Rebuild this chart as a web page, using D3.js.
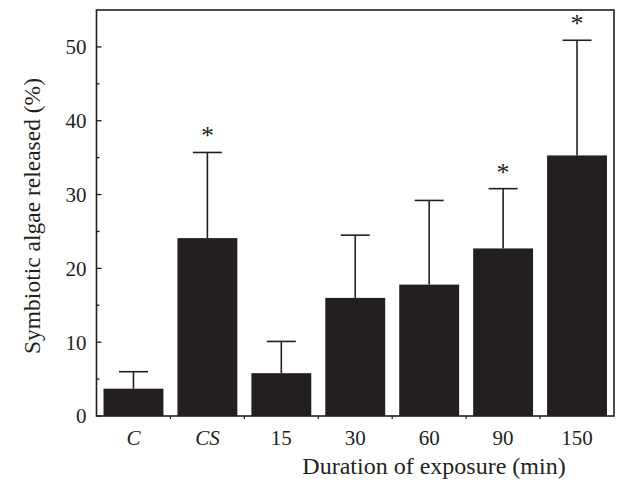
<!DOCTYPE html>
<html><head><meta charset="utf-8">
<script src="https://cdn.jsdelivr.net/npm/d3@7"></script>
<style>body{margin:0;background:#fff}svg{display:block}</style>
</head><body><svg id="c" width="617" height="490"></svg>
<script>
const categories = ["C","CS","15","30","60","90","150"];
const italicCats = ["C","CS"];
const means = [3.7, 24.1, 5.8, 16.0, 17.8, 22.7, 35.3];
const upperErr = [6.0, 35.7, 10.1, 24.5, 29.2, 30.8, 50.9];
const significant = [false, true, false, false, false, true, true];
const yMajorTicks = [0,10,20,30,40,50];
const yMinorTicks = [5,15,25,35,45];

const FONT = '"Liberation Serif", "Times New Roman", Times, serif';
const svg = d3.select("#c");
const L = 96.5, R = 614, T = 10, B = 416;
const ink = "#231f20";
const x = d3.scaleBand().domain(categories).range([L, R]).paddingInner(0.19).paddingOuter(0.095);
const y = d3.scaleLinear().domain([0, 55]).range([B, T]);

function txt(sel){ return sel.style("font-family", FONT).attr("fill", ink); }

// bars
svg.append("g").selectAll("rect").data(categories).join("rect")
  .attr("x", d => x(d)).attr("width", x.bandwidth())
  .attr("y", (d,i) => y(means[i])).attr("height", (d,i) => B - y(means[i]))
  .attr("fill", ink);

// error bars
const eg = svg.append("g").attr("stroke", ink).attr("stroke-width", 1.6);
categories.forEach((d,i) => {
  const cx = x(d) + x.bandwidth()/2;
  eg.append("line").attr("x1", cx).attr("x2", cx).attr("y1", y(means[i])).attr("y2", y(upperErr[i]));
  eg.append("line").attr("x1", cx-14.5).attr("x2", cx+14.5).attr("y1", y(upperErr[i])).attr("y2", y(upperErr[i]));
});

// asterisks
categories.forEach((d,i) => {
  if (!significant[i]) return;
  txt(svg.append("text")).attr("x", x(d) + x.bandwidth()/2).attr("y", y(upperErr[i]) - 8)
    .attr("text-anchor","middle").attr("font-size", 26).text("*");
});

// frame
svg.append("rect").attr("x", L).attr("y", T).attr("width", R-L).attr("height", B-T)
  .attr("fill","none").attr("stroke", ink).attr("stroke-width", 1.6);

// y axis ticks (inward)
const ya = svg.append("g");
yMajorTicks.forEach(v => {
  ya.append("line").attr("x1", L).attr("x2", L+5).attr("y1", y(v)).attr("y2", y(v)).attr("stroke", ink).attr("stroke-width", 1.3);
  txt(ya.append("text")).attr("x", L-10).attr("y", y(v)).attr("dy","0.35em").attr("text-anchor","end").attr("font-size", 21).text(v);
});
yMinorTicks.forEach(v => {
  ya.append("line").attr("x1", L).attr("x2", L+3).attr("y1", y(v)).attr("y2", y(v)).attr("stroke", ink).attr("stroke-width", 1.3);
});

// x axis: ticks at band boundaries (outward), labels at centers
const step = x.step();
for (let k = 1; k < categories.length; k++) {
  const bx = L + k*step;
  svg.append("line").attr("x1", bx).attr("x2", bx).attr("y1", B).attr("y2", B+3).attr("stroke", ink).attr("stroke-width", 1.2);
}
categories.forEach(d => {
  txt(svg.append("text")).attr("x", x(d) + x.bandwidth()/2).attr("y", 445)
    .attr("text-anchor","middle").attr("font-size", 21)
    .attr("font-style", italicCats.includes(d) ? "italic" : "normal").text(d);
});

// axis titles
txt(svg.append("text")).attr("x", 434).attr("y", 474).attr("text-anchor","middle").attr("font-size", 24).text("Duration of exposure (min)");
txt(svg.append("text")).attr("transform","translate(40,216) rotate(-90)").attr("text-anchor","middle").attr("font-size", 23.5).text("Symbiotic algae released (%)");
</script></body></html>
